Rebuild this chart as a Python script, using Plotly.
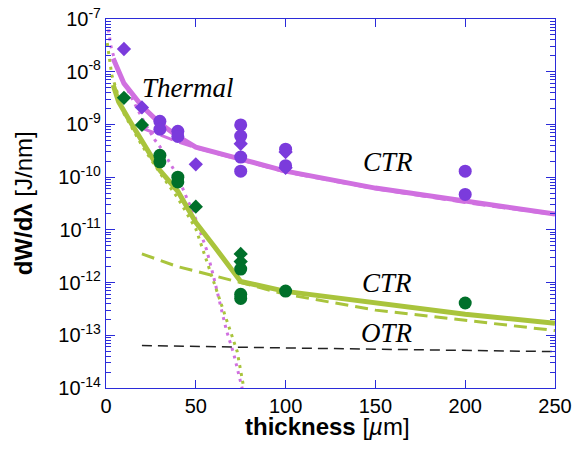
import plotly.graph_objects as go

# ---------------- data ----------------
# thick solid lines: CTR simulation
purple_ctr_x = [4, 10, 20, 30, 40, 50, 75, 100, 150, 200, 250]
purple_ctr_y = [1.78e-8, 6.0e-9, 2.24e-9, 1.05e-9, 5.9e-10, 3.7e-10, 2.2e-10, 1.3e-10, 6.2e-11, 3.5e-11, 2.0e-11]

green_ctr_x = [4, 7, 13, 20, 30, 40, 50, 60, 75, 100, 150, 200, 250]
green_ctr_y = [5.6e-9, 2.7e-9, 1.2e-9, 4.7e-10, 1.35e-10, 5.4e-11, 1.38e-11, 5.0e-12, 1.05e-12, 6.8e-13, 4.1e-13, 2.5e-13, 1.7e-13]

# dashed CTR curves
purple_dash_x = [20, 30, 40, 50, 75, 100, 150, 200, 250]
purple_dash_y = [8.5e-10, 6.3e-10, 4.7e-10, 3.6e-10, 2.1e-10, 1.25e-10, 6.0e-11, 3.3e-11, 1.95e-11]

green_dash_x = [20, 40, 60, 75, 100, 150, 200, 250]
green_dash_y = [3.5e-12, 2.0e-12, 1.35e-12, 1.0e-12, 6.0e-13, 3.0e-13, 1.95e-13, 1.23e-13]

# dotted thermal curves
purple_th_x = [1.3, 3, 6, 10, 17, 22, 27, 31, 38, 43, 50, 56, 60, 67, 71, 75, 76.5]
purple_th_y = [6.3e-8, 2.75e-8, 1.26e-8, 6.3e-9, 2.1e-9, 1.0e-9, 5.2e-10, 3.4e-10, 1.35e-10,
               5.8e-11, 1.6e-11, 4.2e-12, 1.26e-12, 1.26e-13, 4.6e-14, 1.26e-14, 7.9e-15]

green_th_x = [0.7, 2.2, 3.2, 10, 20, 30, 40, 50, 55, 60, 65, 70, 73, 77]
green_th_y = [3.5e-8, 1.35e-8, 8.7e-9, 1.6e-9, 4.0e-10, 1.2e-10, 4.0e-11, 1.05e-11, 3.3e-12,
              1.05e-12, 3.2e-13, 1.05e-13, 5.0e-14, 8.9e-15]

# OTR
otr_x = [20, 100, 250]
otr_y = [6.4e-14, 5.75e-14, 4.9e-14]

# measured points
purple_dia_x = [10, 20, 50, 75, 100, 100]
purple_dia_y = [2.7e-8, 2.1e-9, 1.75e-10, 4.3e-10, 3.0e-10, 1.5e-10]

purple_circ_x = [30, 30, 40, 40, 75, 75, 75, 75, 100, 100, 200, 200]
purple_circ_y = [1.15e-9, 8.1e-10, 7.4e-10, 5.9e-10, 9.8e-10, 6.0e-10, 2.4e-10, 1.3e-10,
                 3.4e-10, 1.65e-10, 1.3e-10, 4.7e-11]

green_dia_x = [10, 20, 50, 75, 75]
green_dia_y = [3.2e-9, 9.8e-10, 2.75e-11, 3.5e-12, 2.5e-12]

green_circ_x = [30, 30, 40, 40, 75, 75, 75, 100, 200]
green_circ_y = [2.6e-10, 1.95e-10, 1.0e-10, 8.1e-11, 1.8e-12, 6.0e-13, 5.0e-13, 6.9e-13, 4.1e-13]

x_ticks = [0, 50, 100, 150, 200, 250]
y_tick_vals = [1e-14, 1e-13, 1e-12, 1e-11, 1e-10, 1e-9, 1e-8, 1e-7]
y_tick_text = ["10<sup>-14</sup>", "10<sup>-13</sup>", "10<sup>-12</sup>", "10<sup>-11</sup>",
               "10<sup>-10</sup>", "10<sup>-9</sup>", "10<sup>-8</sup>", "10<sup>-7</sup>"]

labels = ["Thermal", "CTR", "CTR", "OTR"]
label_x = [45.4, 157, 156.5, 156.7]
label_logy = [-8.30, -9.72, -12.01, -12.96]

x_title = "<b>thickness</b> [<i>µ</i>m]"
y_title = "<b>dW/dλ</b> [J/nm]"

# ---------------- style ----------------
PURPLE_LINE = "#d070e0"
GREEN_LINE = "#a9c43c"
PURPLE_MK = "#7b3bdc"
GREEN_MK = "#00702a"
AXIS = "#2b2bd9"

fig = go.Figure()

def line(x, y, color, width, dash="solid"):
    fig.add_trace(go.Scatter(x=x, y=y, mode="lines",
                             line=dict(color=color, width=width, dash=dash),
                             hoverinfo="skip"))

line(otr_x, otr_y, "#222222", 1.5, "10px,6px")
line(green_dash_x, green_dash_y, GREEN_LINE, 3, "13px,7px")
line(purple_dash_x, purple_dash_y, PURPLE_LINE, 3, "13px,7px")
line(purple_th_x, purple_th_y, PURPLE_LINE, 3, "3px,5px")
line(green_th_x, green_th_y, GREEN_LINE, 3, "3px,5px")
line(purple_ctr_x, purple_ctr_y, PURPLE_LINE, 5)
line(green_ctr_x, green_ctr_y, GREEN_LINE, 5)

def pts(x, y, color, symbol, size):
    fig.add_trace(go.Scatter(x=x, y=y, mode="markers",
                             marker=dict(color=color, symbol=symbol, size=size,
                                         line=dict(width=0))))

pts(purple_dia_x, purple_dia_y, PURPLE_MK, "diamond", 11)
pts(purple_circ_x, purple_circ_y, PURPLE_MK, "circle", 13)
pts(green_dia_x, green_dia_y, GREEN_MK, "diamond", 11)
pts(green_circ_x, green_circ_y, GREEN_MK, "circle", 13)

for t, lx, ly in zip(labels, label_x, label_logy):
    fig.add_annotation(x=lx, y=ly, xref="x", yref="y", text="<i>%s</i>" % t,
                       showarrow=False, xanchor="center", yanchor="middle",
                       font=dict(family="Liberation Serif", size=27, color="black"))

# axis titles placed as paper annotations
fig.add_annotation(x=0.494, y=-0.104, xref="paper", yref="paper", text=x_title,
                   showarrow=False, xanchor="center", yanchor="middle",
                   font=dict(family="Liberation Sans", size=24, color="black"))
fig.add_annotation(x=-0.183, y=0.50, xref="paper", yref="paper", text=y_title,
                   showarrow=False, xanchor="center", yanchor="middle", textangle=-90,
                   font=dict(family="Liberation Sans", size=24, color="black"))

fig.update_layout(
    width=574, height=449,
    margin=dict(l=106, r=19, t=19, b=61, autoexpand=False),
    paper_bgcolor="white", plot_bgcolor="white",
    showlegend=False,
    font=dict(family="Liberation Sans", color="black"),
)

fig.update_xaxes(
    range=[0, 250], tickvals=x_ticks, ticktext=[str(v) for v in x_ticks],
    ticks="inside", ticklen=8, tickwidth=1.2, tickcolor=AXIS,
    showline=True, linecolor=AXIS, linewidth=1.3, mirror="allticks",
    showgrid=False, zeroline=False, automargin=False,
    tickfont=dict(size=20, family="Liberation Sans"),
)

fig.update_yaxes(
    type="log", range=[-14, -7], tickvals=y_tick_vals, ticktext=y_tick_text,
    ticks="inside", ticklen=9, tickwidth=1.2, tickcolor=AXIS,
    minor=dict(ticks="inside", ticklen=5, tickwidth=1, tickcolor=AXIS, dtick="D1", showgrid=False),
    showline=True, linecolor=AXIS, linewidth=1.3, mirror="allticks",
    showgrid=False, zeroline=False, automargin=False,
    tickfont=dict(size=20, family="Liberation Sans"),
)

fig.write_html("out.html", config={"displayModeBar": False},
               post_script="document.body.style.margin='0';document.body.style.overflow='hidden';")
